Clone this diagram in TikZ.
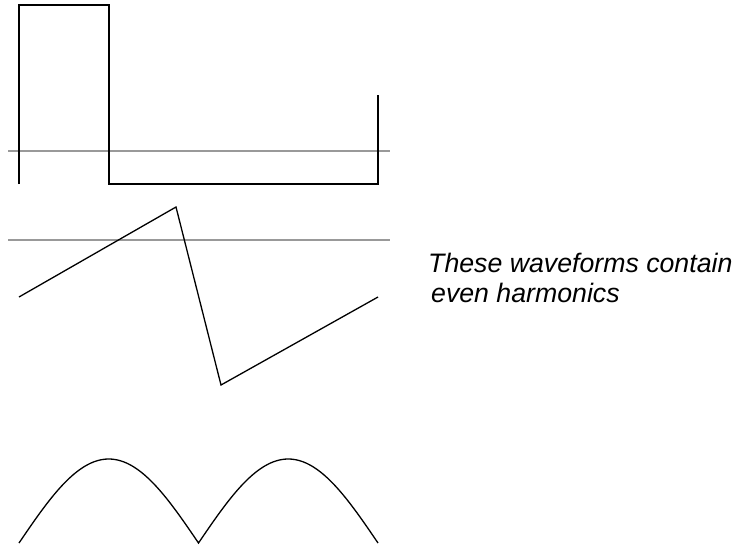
\documentclass[tikz,border=0pt]{standalone}
\usepackage{fontspec}
\setmainfont{Liberation Sans}
\usetikzlibrary{positioning}

\begin{document}
\begin{tikzpicture}[
      x=1pt, y=-1pt,
      wave/.style={draw, black, line width=1.3pt, line join=miter},
      axis/.style={draw, black!40, line width=1.3pt},
      note/.style={font=\fontsize{26.7}{30}\selectfont\itshape, align=left,
                   inner sep=0pt}
    ]
    \useasboundingbox (0,0) rectangle (744,552);

    % square wave
    \draw[axis] (8,151) -- (390,151);
    \draw[wave] (19,184) -- (19,5) -- (109,5) -- (109,184) -- (378,184) -- (378,95);

    % sawtooth
    \draw[axis] (8,240) -- (390,240);
    \draw[wave] (19,297) -- (176,207) -- (221,385) -- (378,297);

    % rectified sine
    \draw[wave] plot[domain=0:360, samples=121] ({19+0.99722*\x}, {543-84*abs(sin(\x))});

    \node[note, anchor=base west] (label) at (428,302)
      {These waveforms contain\\\hspace*{3pt}even harmonics};
  \end{tikzpicture}
\end{document}
